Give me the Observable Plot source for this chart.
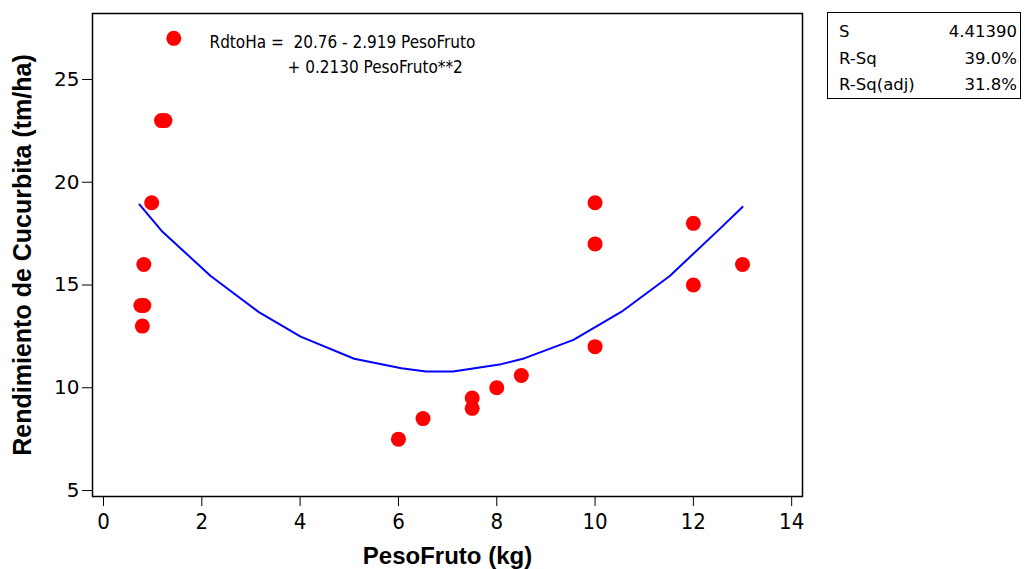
<!DOCTYPE html>
<html>
<head>
<meta charset="utf-8">
<script src="https://cdn.jsdelivr.net/npm/d3@7"></script>
<script src="https://cdn.jsdelivr.net/npm/@observablehq/plot@0.6"></script>
<style>
  html, body { margin: 0; padding: 0; background: #fff; }
  #wrap { position: relative; width: 1025px; height: 569px; }
  #stats { position: absolute; left: 827px; top: 12px; width: 194px; height: 87px;
           border: 1.5px solid #000; box-sizing: border-box; font-family: "DejaVu Sans", sans-serif;
           font-size: 16.5px; color: #000; background: #fff; }
  #stats .row { position: absolute; left: 11px; right: 3px; display: flex; justify-content: space-between; }
</style>
</head>
<body>
<div id="wrap"></div>
<script>
// Observations
const pesoFruto = [0.76, 0.82, 0.79, 0.82, 0.98, 1.18, 1.25, 1.43, 6, 6.5, 7.5, 7.5, 8, 8.5, 10, 10, 10, 12, 12, 13];
const rdtoHa    = [14,   14,   13,   16,   19,   23,   23,   27,   7.5, 8.5, 9.5, 9, 10, 10.6, 19, 17, 12, 18, 15, 16];

// Fitted curve vertices
const fitX = [0.73, 1.20, 2.18, 3.16, 4.01, 5.10, 6.06, 6.56, 7.11, 8.09, 8.57, 9.56, 10.54, 11.52, 12.51, 13.0];
const fitY = [18.92, 17.59, 15.44, 13.68, 12.49, 11.41, 10.95, 10.79, 10.79, 11.15, 11.44, 12.33, 13.70, 15.44, 17.67, 18.80];

const xTicks = [0, 2, 4, 6, 8, 10, 12, 14];
const yTicks = [5, 10, 15, 20, 25];

const eqLine1 = "RdtoHa =  20.76 - 2.919 PesoFruto";
const eqLine2 = "+ 0.2130 PesoFruto**2";
const statLabels = ["S", "R-Sq", "R-Sq(adj)"];
const statValues = ["4.41390", "39.0%", "31.8%"];

const points = pesoFruto.map((x, i) => ({x, y: rdtoHa[i]}));
const fit = fitX.map((x, i) => ({x, y: fitY[i]}));

const narrow = "'Liberation Sans Narrow', 'Arial Narrow', 'DejaVu Sans Condensed', sans-serif";

const chart = Plot.plot({
  width: 1025,
  height: 569,
  marginLeft: 92,
  marginRight: 223,
  marginTop: 13,
  marginBottom: 73,
  style: {fontFamily: "'Liberation Sans', Arial, sans-serif", fontSize: "19px", background: "#fff", color: "#000"},
  x: {domain: [-0.224, 14.22]},
  y: {domain: [4.71, 28.21]},
  marks: [
    Plot.frame({stroke: "#000", strokeWidth: 1.5}),
    Plot.axisX(xTicks, {tickSize: 10, tickPadding: 7, fontSize: 22, label: null, fontFamily: narrow}),
    Plot.axisY(yTicks, {tickSize: 10, tickPadding: 3, fontSize: 20, label: null, fontFamily: "'DejaVu Sans', sans-serif"}),
    Plot.line(fit, {x: "x", y: "y", stroke: "#0000ff", strokeWidth: 2}),
    Plot.dot(points, {x: "x", y: "y", r: 7.5, fill: "#ff0000", stroke: "none"}),
    Plot.text([eqLine1], {text: d => d, frameAnchor: "top-left", textAnchor: "start", lineAnchor: "middle", dx: 117, dy: 29, fontSize: 17, fontFamily: narrow}),
    Plot.text([eqLine2], {text: d => d, frameAnchor: "top-left", textAnchor: "start", lineAnchor: "middle", dx: 195, dy: 54, fontSize: 17, fontFamily: narrow}),
    Plot.text(["PesoFruto (kg)"], {text: d => d, frameAnchor: "bottom", textAnchor: "middle", lineAnchor: "middle", dy: 60, fontSize: 24, fontWeight: "bold"}),
    Plot.text(["Rendimiento de Cucurbita (tm/ha)"], {text: d => d, frameAnchor: "left", textAnchor: "middle", lineAnchor: "middle", dx: -70, rotate: -90, fontSize: 25, fontWeight: "bold"})
  ]
});
const wrap = document.getElementById("wrap");
wrap.appendChild(chart);

const stats = document.createElement("div");
stats.id = "stats";
const rowTops = [9, 36, 62];
statLabels.forEach((lab, i) => {
  const row = document.createElement("div");
  row.className = "row";
  row.style.top = rowTops[i] + "px";
  const a = document.createElement("span"); a.textContent = lab;
  const b = document.createElement("span"); b.textContent = statValues[i];
  row.appendChild(a); row.appendChild(b);
  stats.appendChild(row);
});
wrap.appendChild(stats);
</script>
</body>
</html>
